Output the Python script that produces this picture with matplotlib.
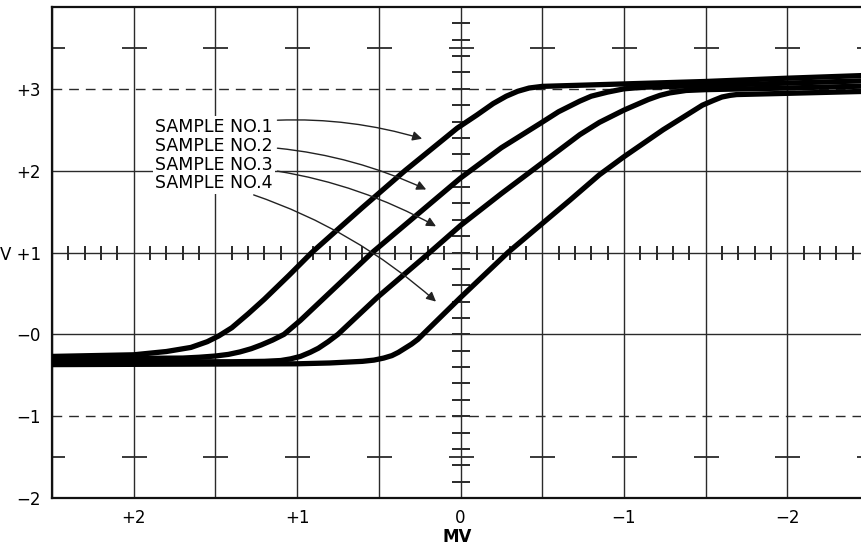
import numpy as np
import matplotlib.pyplot as plt

plt.rcParams['font.family'] = ['DejaVu Sans']

# readings (x in MV, y in V)
x1 = [2.5, 2.0, 1.8, 1.65, 1.55, 1.48, 1.4, 1.3, 1.2, 1.05, 0.91, 0.6, 0.34, 0.02, -0.1, -0.2, -0.28,
      -0.35, -0.42, -0.5, -1.0, -1.5, -2.0, -2.5]
y1 = [-0.27, -0.25, -0.21, -0.16, -0.09, -0.02, 0.08, 0.25, 0.43, 0.72, 1.0, 1.55, 2.0, 2.52, 2.68, 2.82, 2.91,
      2.97, 3.01, 3.03, 3.06, 3.09, 3.13, 3.165]

x2 = [2.5, 1.7, 1.6, 1.5, 1.42, 1.35, 1.28, 1.22, 1.15, 1.08, 0.98, 0.54, 0.0, -0.25, -0.49, -0.6, -0.73,
      -0.8, -0.9, -1.0, -1.12, -1.5, -2.0, -2.5]
y2 = [-0.30, -0.29, -0.28, -0.265, -0.245, -0.215, -0.175, -0.13, -0.07, 0.0, 0.17, 1.0, 1.91, 2.28, 2.58, 2.72, 2.85,
      2.91, 2.96, 3.0, 3.02, 3.04, 3.07, 3.10]

x3 = [2.5, 1.4, 1.2, 1.1, 1.04, 0.98, 0.92, 0.87, 0.81, 0.75, 0.51, 0.2, 0.0, -0.25, -0.49, -0.73, -0.85, -1.0,
      -1.15, -1.22, -1.28, -1.38, -1.5, -2.0, -2.5]
y3 = [-0.335, -0.335, -0.33, -0.32, -0.30, -0.27, -0.22, -0.17, -0.09, 0.0, 0.45, 0.98, 1.33, 1.72, 2.08, 2.44, 2.59, 2.74,
      2.87, 2.92, 2.95, 2.98, 2.99, 3.01, 3.035]

x4 = [2.5, 1.0, 0.8, 0.6, 0.53, 0.47, 0.42, 0.38, 0.34, 0.3, 0.26, 0.23, 0.0, -0.29, -0.67, -0.85, -1.0,
      -1.24, -1.48, -1.55, -1.6, -1.65, -1.69, -2.0, -2.5]
y4 = [-0.37, -0.36, -0.35, -0.33, -0.315, -0.29, -0.26, -0.22, -0.17, -0.12, -0.06, 0.0, 0.45, 1.0, 1.64, 1.95, 2.17,
      2.5, 2.8, 2.86, 2.9, 2.92, 2.93, 2.945, 2.97]

curves = [(x1, y1), (x2, y2), (x3, y3), (x4, y4)]

labels = ['SAMPLE NO.1', 'SAMPLE NO.2', 'SAMPLE NO.3', 'SAMPLE NO.4']
label_y = [2.53, 2.30, 2.07, 1.85]
arrow_tips = [(0.235, 2.39), (0.21, 1.77), (0.15, 1.32), (0.15, 0.40)]

xticks = [2, 1, 0, -1, -2]
xticklabels = ['+2', '+1', '0', '\u22121', '\u22122']
yticks = [3, 2, 1, 0, -1, -2]
yticklabels = ['+3', '+2', 'V +1', '\u22120', '\u22121', '\u22122']

fig = plt.figure(figsize=(8.62, 5.46), dpi=100)
ax = fig.add_axes([52 / 862, 48 / 546, 1 - 52 / 862, 491 / 546])
ax.set_xlim(2.5, -2.457)
ax.set_ylim(-2, 4)

gc = '#2a2a2a'
for gx in np.arange(-2.5, 2.51, 0.5):
    ax.axvline(gx, color=gc, lw=1.0, zorder=1)
for gy in [2, 1, 0]:
    ax.axhline(gy, color=gc, lw=1.0, zorder=1)
for gy in [3, -1]:
    ax.axhline(gy, color=gc, lw=1.0, ls=(0, (7, 5)), zorder=1)

# graticule marks
gx = np.arange(-2.5, 2.51, 0.5)
ax.plot(gx, np.full(gx.size, 3.5), ls='none', marker='_', ms=18, mew=1.3, color=gc, zorder=1)
ax.plot(gx, np.full(gx.size, -1.5), ls='none', marker='_', ms=18, mew=1.3, color=gc, zorder=1)
mx = np.array([v for v in np.round(np.arange(-2.4, 2.45, 0.1), 1) if abs(v * 2 - round(v * 2)) > 1e-6])
ax.plot(mx, np.ones(mx.size), ls='none', marker='|', ms=9.5, mew=1.4, color=gc, zorder=1)
my = np.round(np.arange(-1.8, 3.85, 0.2), 1)
ax.plot(np.zeros(my.size), my, ls='none', marker='_', ms=13, mew=1.4, color=gc, zorder=1)

for xs, ys in curves:
    ax.plot(xs, ys, color='black', lw=3.8, solid_joinstyle='round', solid_capstyle='butt', zorder=3)

for lab, ly, tip in zip(labels, label_y, arrow_tips):
    ax.annotate(lab, xy=tip, xytext=(1.15, ly), ha='right', va='center', fontsize=12.5,
                bbox=dict(boxstyle='square,pad=0.12', fc='white', ec='none'),
                arrowprops=dict(arrowstyle='-|>', color='#222222', lw=1.0, mutation_scale=14,
                                shrinkA=2, shrinkB=0, connectionstyle='arc3,rad=-0.12'),
                zorder=4)

ax.set_xticks(xticks)
ax.set_xticklabels(xticklabels, fontsize=12)
ax.set_yticks(yticks)
ax.set_yticklabels(yticklabels, fontsize=12)
ax.tick_params(length=0, pad=8)
fig.text(457 / 862, 1 - 537 / 546, 'MV', ha='center', va='center', fontsize=12, fontweight='bold')

for s in ['left', 'bottom', 'top']:
    ax.spines[s].set_linewidth(1.6)
    ax.spines[s].set_color('#111111')
ax.spines['right'].set_visible(False)

fig.savefig('out.png', dpi=100)
